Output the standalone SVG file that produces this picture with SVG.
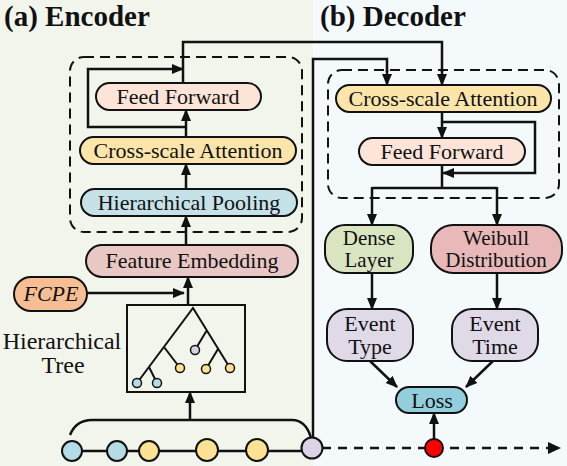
<svg xmlns="http://www.w3.org/2000/svg" width="567" height="466" viewBox="0 0 567 466">
<style>
.t{font-family:"Liberation Serif","Times New Roman",serif;font-size:22px;fill:#111;text-anchor:middle}
.t2{font-family:"Liberation Serif","Times New Roman",serif;font-size:21px;fill:#111;text-anchor:middle}
.title{font-family:"Liberation Serif","Times New Roman",serif;font-size:29px;font-weight:bold;fill:#111}
.n{stroke:#111;stroke-width:2}
.c{fill:none;stroke:#111;stroke-width:2.5}
.a{fill:none;stroke:#111;stroke-width:2.5;marker-end:url(#ah)}
.dash{fill:none;stroke:#111;stroke-width:2;stroke-dasharray:10 6}
.tr{fill:none;stroke:#111;stroke-width:2}
.leaf{stroke:#111;stroke-width:1.5}
.dot{stroke:#111;stroke-width:2}
</style>
<defs>
<marker id="ah" markerUnits="userSpaceOnUse" markerWidth="12" markerHeight="12" viewBox="0 0 12 12" refX="11" refY="6" orient="auto">
<path d="M0,1 L12,6 L0,11 Z" fill="#111"/>
</marker>
</defs>
<rect x="0" y="0" width="313" height="466" fill="#F2F5EC"/>
<rect x="313" y="0" width="254" height="466" fill="#F4FAFC"/>
<text class="title" x="4" y="26">(a) Encoder</text>
<text class="title" x="320" y="26">(b) Decoder</text>

<rect class="dash" x="70" y="57" width="232" height="175" rx="14"/>
<rect class="dash" x="328" y="70" width="231" height="128" rx="14"/>

<g id="connectors">
<path class="c" d="M183,83 V42 H442 V72"/>
<path class="a" d="M442,70 V85"/>
<path class="c" d="M313,438 V59 H387 V72"/>
<path class="a" d="M387,70 V85"/>
<path class="a" d="M186,137 V110"/>
<path class="a" d="M186,127 H88 V69 H183"/>
<path class="a" d="M186,189 V164"/>
<path class="a" d="M186,245 V216"/>
<path class="a" d="M188,305 V277"/>
<path class="a" d="M87,293 H184"/>
<path class="a" d="M190,420 V392"/>
<path d="M70,435 Q76,420 92,420 H292 Q306,420 311,438" fill="none" stroke="#111" stroke-width="2.5"/>
<path class="a" d="M442,112 V138"/>
<path class="a" d="M442,122 H535 V173 H443"/>
<path class="c" d="M442,165 V188"/>
<path class="c" d="M372,188 H497"/>
<path class="a" d="M372,187 V225"/>
<path class="a" d="M497,187 V225"/>
<path class="a" d="M372,273 V309"/>
<path class="a" d="M497,273 V309"/>
<path class="a" d="M370,361 L397,387"/>
<path class="a" d="M493,361 L466,387"/>
<path class="a" d="M434,439 V413"/>
<path d="M72,451 H312" stroke="#111" stroke-width="2.5"/>
<path d="M322,448 H548" fill="none" stroke="#111" stroke-width="2.5" stroke-dasharray="9 7"/>
<path d="M548,442 L561,448 L548,454 Z" fill="#111"/>
</g>

<g id="enc-ff"><rect class="n" x="96" y="83" width="165" height="27" rx="13.5" fill="#FCE4D8"/><text class="t" x="178" y="104">Feed Forward</text></g>
<g id="enc-csa"><rect class="n" x="80" y="137" width="216" height="27" rx="13.5" fill="#FCE5AA"/><text class="t" x="188" y="158">Cross-scale Attention</text></g>
<g id="enc-pool"><rect class="n" x="81" y="189" width="216" height="27" rx="13.5" fill="#C5E2E8"/><text class="t" x="189" y="210">Hierarchical Pooling</text></g>
<g id="enc-fe"><rect class="n" x="86" y="245" width="212" height="32" rx="16" fill="#E8C7C5"/><text class="t" x="192" y="268">Feature Embedding</text></g>
<g id="fcpe"><rect class="n" x="14" y="277" width="73" height="34" rx="17" fill="#F7BE94"/><text class="t" x="51" y="301" font-style="italic">FCPE</text></g>

<g id="tree">
<text class="t" x="62" y="349" style="font-size:24px">Hierarchical</text>
<text class="t" x="63" y="373" style="font-size:24px">Tree</text>
<rect x="127" y="305" width="118" height="87" fill="none" stroke="#111" stroke-width="2"/>
<path class="tr" d="M137,383 L193,308 L230,368 M164,347 L180,368 M149,367 L157,383 M207,330 L195,350 M218,349 L206,369"/>
<circle class="leaf" cx="137" cy="383" r="4.5" fill="#B4DCE6"/>
<circle class="leaf" cx="157" cy="383" r="4.5" fill="#B4DCE6"/>
<circle class="leaf" cx="180" cy="368" r="4.5" fill="#FDE293"/>
<circle class="leaf" cx="195" cy="350" r="4.5" fill="#D8D0E4"/>
<circle class="leaf" cx="206" cy="369" r="4.5" fill="#FDE293"/>
<circle class="leaf" cx="230" cy="368" r="4.5" fill="#FDE293"/>
</g>

<g id="seq">
<circle class="dot" cx="72" cy="451" r="10" fill="#B4DCE6"/>
<circle class="dot" cx="117" cy="451" r="10" fill="#B4DCE6"/>
<circle class="dot" cx="149" cy="451" r="10" fill="#FDE293"/>
<circle class="dot" cx="207" cy="450" r="11" fill="#FDE293"/>
<circle class="dot" cx="257" cy="450" r="11" fill="#FDE293"/>
<circle class="dot" cx="312" cy="448" r="10.5" fill="#DCD4E6"/>
<circle class="dot" cx="434" cy="448" r="9" fill="#FF0000"/>
</g>

<g id="dec-csa"><rect class="n" x="336" y="85" width="215" height="27" rx="13.5" fill="#FCE5AA"/><text class="t" x="443" y="106">Cross-scale Attention</text></g>
<g id="dec-ff"><rect class="n" x="359" y="138" width="166" height="27" rx="13.5" fill="#FCE4D8"/><text class="t" x="442" y="159">Feed Forward</text></g>
<g id="dense"><rect class="n" x="325" y="225" width="88" height="48" rx="20" fill="#D9E5C1"/><text class="t2" x="369" y="245">Dense</text><text class="t2" x="369" y="267">Layer</text></g>
<g id="weibull"><rect class="n" x="431" y="225" width="131" height="48" rx="22" fill="#E8B9B8"/><text class="t2" x="496" y="245">Weibull</text><text class="t2" x="496" y="267">Distribution</text></g>
<g id="etype"><rect class="n" x="327" y="309" width="86" height="52" rx="20" fill="#E0D9E8"/><text class="t" x="370" y="331">Event</text><text class="t" x="370" y="354">Type</text></g>
<g id="etime"><rect class="n" x="452" y="309" width="86" height="52" rx="20" fill="#E0D9E8"/><text class="t" x="495" y="331">Event</text><text class="t" x="495" y="354">Time</text></g>
<g id="loss"><rect class="n" x="396" y="387" width="71" height="26" rx="13" fill="#93CEDC"/><text class="t" x="432" y="408">Loss</text></g>
</svg>
